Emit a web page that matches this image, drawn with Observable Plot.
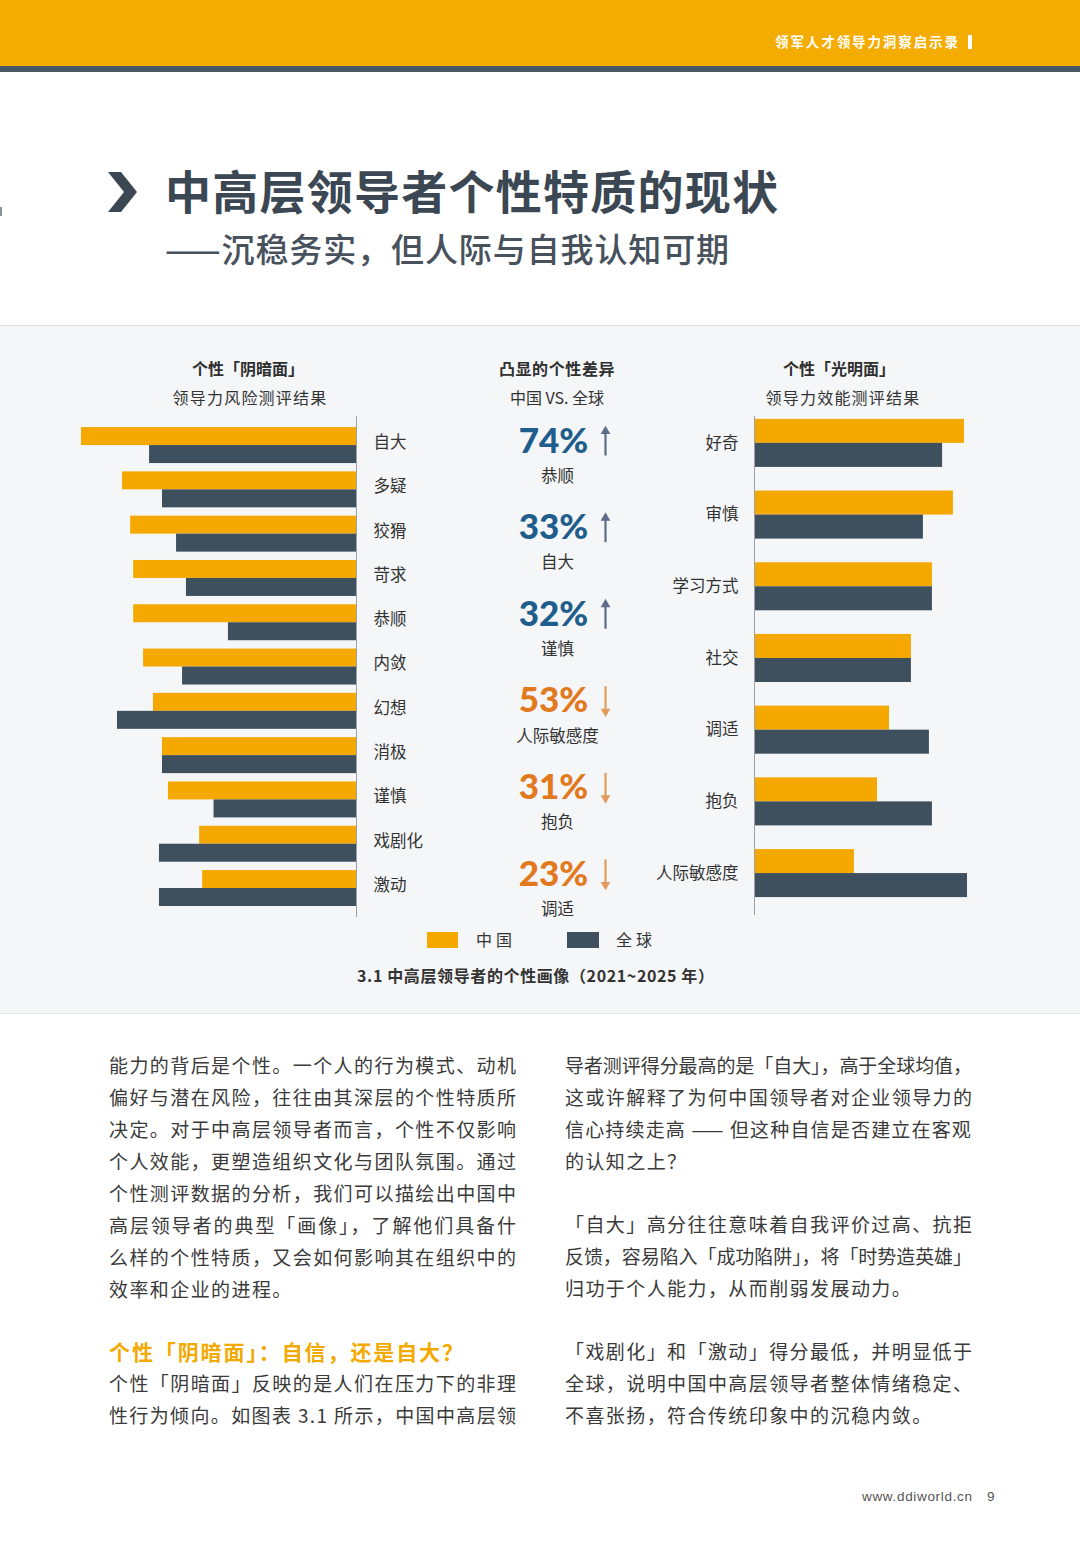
<!DOCTYPE html>
<html><head><meta charset="utf-8">
<script src="https://cdn.jsdelivr.net/npm/d3@7"></script>
<script src="https://cdn.jsdelivr.net/npm/@observablehq/plot@0.6"></script>
<style>
html,body{margin:0;padding:0;background:#fff;}
body{width:1080px;height:1560px;position:relative;overflow:hidden;font-family:"Noto Sans CJK SC","Noto Sans",sans-serif;color:#333;}
</style></head><body>
<script>
// ---------------- DATA ----------------
const darkTraits  = ["自大","多疑","狡猾","苛求","恭顺","内敛","幻想","消极","谨慎","戏剧化","激动"];
const darkChina   = [91.7, 78.0, 75.3, 74.3, 74.3, 71.0, 67.7, 64.7, 62.7, 52.3, 51.3];
const darkGlobal  = [69.0, 64.7, 60.0, 56.7, 42.7, 58.0, 79.7, 64.7, 47.5, 65.7, 65.7];
const brightTraits = ["好奇","审慎","学习方式","社交","调适","抱负","人际敏感度"];
const brightChina  = [70.0, 66.3, 59.3, 52.3, 45.0, 41.0, 33.3];
const brightGlobal = [62.7, 56.3, 59.3, 52.3, 58.3, 59.3, 71.0];
const diffTraits = ["恭顺","自大","谨慎","人际敏感度","抱负","调适"];
const diffPct    = [74, 33, 32, 53, 31, 23];
const diffDir    = ["up","up","up","down","down","down"];
const seriesNames = ["中国","全球"];

// ---------------- STYLE ----------------
const C_CHINA = "#F5A800", C_GLOBAL = "#3E4F5D";
const C_UP = "#1F5D8C", C_DOWN = "#E2791F";
const C_ARROW_UP = "#5E6C8A", C_ARROW_DOWN = "#E39A5E";
const FONT = "Noto Sans CJK SC";

function el(tag, css, html){ const e=document.createElement(tag); e.style.cssText=css; if(html!=null) e.innerHTML=html; document.body.appendChild(e); return e; }
function fit(e, w){ e.style.letterSpacing="0px"; const nat=e.getBoundingClientRect().width; const n=[...e.textContent].length; const ls=(w-nat)/Math.max(1,n-1); e.style.letterSpacing=ls+"px"; return ls; }
function txt(text, x, cy, size, css, w){ const lh=size*1.2; const e=el("div", `position:absolute;white-space:nowrap;left:${x}px;top:${cy-lh/2-size*0.05}px;font-size:${size}px;line-height:${lh}px;${css||""}`); e.textContent=text; if(w) fit(e,w); return e; }
function ctxt(text, cx, cy, size, css){ const lh=size*1.2; const e=el("div", `position:absolute;white-space:nowrap;left:${cx-200}px;width:400px;text-align:center;top:${cy-lh/2-size*0.05}px;font-size:${size}px;line-height:${lh}px;${css||""}`); e.textContent=text; return e; }

// ---------------- PAGE FRAME ----------------
el("div","position:absolute;left:0;top:0;width:1080px;height:66px;background:#F5AC00;");
el("div","position:absolute;left:0;top:66px;width:1080px;height:6px;background:#4A5866;");
txt("领军人才领导力洞察启示录", 775, 42, 13.5, "color:#fff;font-weight:700;", 183);
el("div","position:absolute;left:968px;top:35px;width:4px;height:14px;background:#fff;");
el("div","position:absolute;left:0;top:207px;width:2px;height:9px;background:#8a939b;");

el("div","position:absolute;left:100px;top:165px;width:45px;height:55px;",
  '<svg width="45" height="55"><polygon points="8,7 21,7 37,27 21,47 8,47 24,27" fill="#3B4854"/></svg>');
txt("中高层领导者个性特质的现状", 165, 192, 46, "color:#3B4854;font-weight:700;", 613);
txt("——沉稳务实，但人际与自我认知可期", 165, 250, 33, "color:#47525D;font-weight:500;", 565);

// chart panel
el("div","position:absolute;left:0;top:325px;width:1080px;height:687px;background:#F4F6F8;border-top:1px solid #D9DEE3;border-bottom:1px solid #E3E7EB;");

// headers
ctxt("个性「阴暗面」", 248, 369, 16, "font-weight:700;color:#2f2f2f;");
ctxt("领导力风险测评结果", 250, 398, 16, "color:#333;letter-spacing:1.2px;");
ctxt("凸显的个性差异", 557, 369, 16, "font-weight:700;color:#2f2f2f;letter-spacing:0.6px;");
ctxt("中国 VS. 全球", 557, 398, 16, "color:#333;");
ctxt("个性「光明面」", 839, 369, 16, "font-weight:700;color:#2f2f2f;");
ctxt("领导力效能测评结果", 843, 398, 16, "color:#333;letter-spacing:1.2px;");

// ---------------- CHARTS ----------------
const darkRows = darkTraits.map((t,i)=>({trait:t, i, china:darkChina[i], global:darkGlobal[i]}));
const brightRows = brightTraits.map((t,i)=>({trait:t, i, china:brightChina[i], global:brightGlobal[i]}));
const diffRows = diffTraits.map((t,i)=>({trait:t, i, pct:diffPct[i], dir:diffDir[i]}));

const plotStyle = {fontFamily: FONT, background:"transparent", overflow:"visible"};

// left: dark side
const DH = 0.406;
const leftPlot = Plot.plot({
  width: 380, height: 530, marginTop: 16, marginBottom: 13, marginLeft: 0, marginRight: 84,
  style: plotStyle,
  x: {domain: [0, 98.7], reverse: true, axis: null},
  y: {domain: [-0.25, 11.06], reverse: true, axis: null},
  marks: [
    Plot.rect(darkRows, {x1: 0, x2: "china", y1: d=>d.i, y2: d=>d.i+DH, fill: C_CHINA}),
    Plot.rect(darkRows, {x1: 0, x2: "global", y1: d=>d.i+DH, y2: d=>d.i+2*DH, fill: C_GLOBAL}),
    Plot.ruleX([0], {stroke: "#9AA1A8", strokeWidth: 1}),
    Plot.text(darkRows, {x: 0, y: d=>d.i+0.34, text: "trait", textAnchor: "start", dx: 17, fontSize: 16.5, fill: "#333"})
  ]
});
el("div","position:absolute;left:60px;top:400px;").appendChild(leftPlot);

// right: bright side
const BH = 0.335;
const rightPlot = Plot.plot({
  width: 340, height: 530, marginTop: 16, marginBottom: 15, marginLeft: 114, marginRight: 0,
  style: plotStyle,
  x: {domain: [0, 75.33], axis: null},
  y: {domain: [-0.04, 6.92], reverse: true, axis: null},
  marks: [
    Plot.rect(brightRows, {x1: 0, x2: "china", y1: d=>d.i, y2: d=>d.i+BH, fill: C_CHINA}),
    Plot.rect(brightRows, {x1: 0, x2: "global", y1: d=>d.i+BH, y2: d=>d.i+2*BH, fill: C_GLOBAL}),
    Plot.ruleX([0], {stroke: "#9AA1A8", strokeWidth: 1}),
    Plot.text(brightRows, {x: 0, y: d=>d.i+BH, text: "trait", textAnchor: "end", dx: -16, fontSize: 16.5, fill: "#333"})
  ]
});
el("div","position:absolute;left:640px;top:400px;").appendChild(rightPlot);

// middle: highlighted differences (x: 0 = column centre)
const midPlot = Plot.plot({
  width: 200, height: 530, margin: 0,
  style: plotStyle,
  x: {domain: [-1, 1], axis: null},
  y: {domain: [-0.473, 5.647], reverse: true, axis: null},
  marks: [
    Plot.text(diffRows, {x: () => 0, y: "i", text: d=>d.pct+"%", dx: -4, fontSize: 35, fontWeight: 900, fontFamily: "Lato",
      fill: d=>d.dir==="up"?C_UP:C_DOWN}),
    Plot.text(diffRows, {x: () => 0, y: d=>d.i+0.404, text: "trait", fontSize: 16.5, fill: "#333"}),
    Plot.ruleX(diffRows, {x: () => 0, y1: d=>d.dir==="up"? d.i-0.11 : d.i-0.168, y2: d=>d.dir==="up"? d.i+0.168 : d.i+0.11,
      dx: 48, strokeWidth: 2.2, stroke: d=>d.dir==="up"?C_ARROW_UP:C_ARROW_DOWN}),
    Plot.dot(diffRows, {x: () => 0, y: d=>d.dir==="up"? d.i-0.118 : d.i+0.118, symbol: "triangle", r: 3.6, dx: 48,
      rotate: d=>d.dir==="up"?0:180, fill: d=>d.dir==="up"?C_ARROW_UP:C_ARROW_DOWN, stroke: "none"})
  ]
});
el("div","position:absolute;left:457px;top:400px;").appendChild(midPlot);

// legend
el("div",`position:absolute;left:427px;top:932px;width:31px;height:16px;background:${C_CHINA};`);
txt(seriesNames[0], 476, 940, 16, "color:#333;letter-spacing:4px;");
el("div",`position:absolute;left:567px;top:932px;width:32px;height:16px;background:${C_GLOBAL};`);
txt(seriesNames[1], 616, 940, 16, "color:#333;letter-spacing:4px;");

// caption
txt("3.1 中高层领导者的个性画像（2021~2025 年）", 357, 976, 16, "color:#333;font-weight:700;", 357);

// ---------------- BODY TEXT ----------------
function column(x, w, lines){
  const els = lines.map(([t,y,full])=>{ const e=txt(t, x, y, 19, "color:#3A3A3A;"); return [e,full]; });
  const sp=[];
  els.forEach(([e,full])=>{ if(full) sp.push(fit(e,w)); });
  const med = d3.median(sp);
  els.forEach(([e,full])=>{ if(!full) e.style.letterSpacing=med+"px"; });
}
column(109, 407, [
  ["能力的背后是个性。一个人的行为模式、动机",1066,true],
  ["偏好与潜在风险，往往由其深层的个性特质所",1098,true],
  ["决定。对于中高层领导者而言，个性不仅影响",1130,true],
  ["个人效能，更塑造组织文化与团队氛围。通过",1162,true],
  ["个性测评数据的分析，我们可以描绘出中国中",1194,true],
  ["高层领导者的典型「画像」，了解他们具备什",1226,true],
  ["么样的个性特质，又会如何影响其在组织中的",1258,true],
  ["效率和企业的进程。",1290,false],
  ["个性「阴暗面」反映的是人们在压力下的非理",1384,true],
  ["性行为倾向。如图表 3.1 所示，中国中高层领",1416,true]
]);
txt("个性「阴暗面」：自信，还是自大？", 109, 1353, 21, "color:#F2A900;font-weight:700;", 354);
column(565, 407, [
  ["导者测评得分最高的是「自大」，高于全球均值，",1066,true],
  ["这或许解释了为何中国领导者对企业领导力的",1098,true],
  ["信心持续走高 —— 但这种自信是否建立在客观",1130,true],
  ["的认知之上？",1162,false],
  ["「自大」高分往往意味着自我评价过高、抗拒",1225,true],
  ["反馈，容易陷入「成功陷阱」，将「时势造英雄」",1257,true],
  ["归功于个人能力，从而削弱发展动力。",1289,false],
  ["「戏剧化」和「激动」得分最低，并明显低于",1352,true],
  ["全球，说明中国中高层领导者整体情绪稳定、",1384,true],
  ["不喜张扬，符合传统印象中的沉稳内敛。",1416,false]
]);

// footer
txt("www.ddiworld.cn", 862, 1498, 13.5, "color:#555;font-family:'Liberation Sans','Noto Sans',sans-serif;", 110);
txt("9", 987, 1498, 13.5, "color:#555;font-family:'Liberation Sans','Noto Sans',sans-serif;");
</script>
</body></html>
